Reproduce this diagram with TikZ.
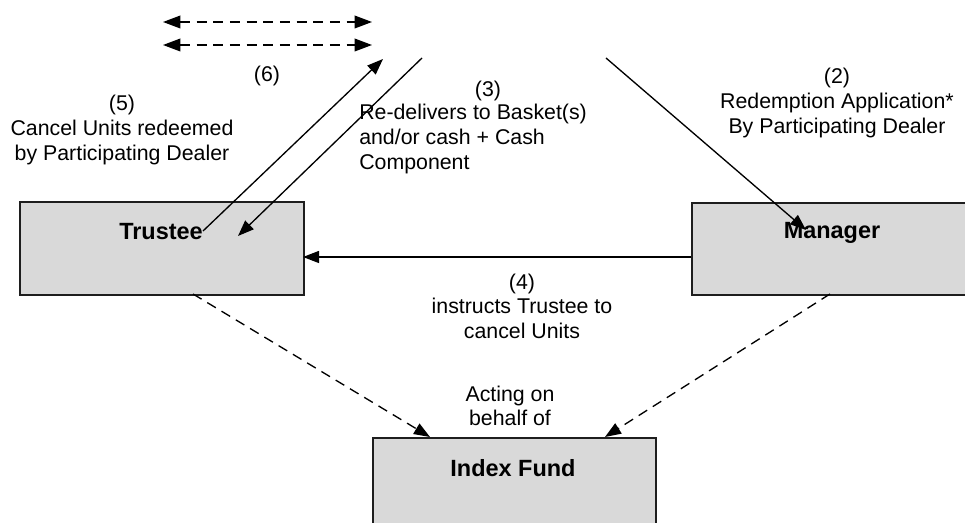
\documentclass[tikz,border=0pt]{standalone}
\usepackage{fontspec}
\setmainfont{Liberation Sans}
\usetikzlibrary{arrows.meta}
\definecolor{boxgray}{HTML}{D9D9D9}
\definecolor{boxline}{HTML}{1E1E1E}
\begin{document}
\begin{tikzpicture}[x=0.75pt,y=-0.75pt,
  box/.style={draw=boxline, line width=1.4pt, fill=boxgray, inner sep=0pt, anchor=north west},
  lbl/.style={font=\fontsize{16}{18.4}\selectfont, align=center, inner sep=0pt},
  blbl/.style={font=\fontsize{17.6}{20}\selectfont\bfseries, inner sep=0pt},
  flow/.style={line width=1pt, -{Triangle[length=12pt,width=9pt]}},
  rel/.style={line width=1pt, dash pattern=on 7.5pt off 5pt, -{Triangle[length=12pt,width=9pt]}},
  both/.style={line width=1.1pt, dash pattern=on 7.5pt off 5pt, {Triangle[length=13pt,width=9.5pt]}-{Triangle[length=13pt,width=9.5pt]}}
]
\useasboundingbox (0,0) rectangle (965,523);
\clip (0,0) rectangle (965,523);
% boxes
\node[box, minimum width=213pt, minimum height=69.75pt] (trustee) at (19,201) {};
\node[box, minimum width=225pt, minimum height=69pt] (manager) at (691,202) {};
\node[box, minimum width=212.25pt, minimum height=90pt] (fund) at (372,437) {};
% box labels
\node[blbl] (trusteeT) at (161,232) {Trustee};
\node[blbl] (managerT) at (832,233) {Manager};
\node[blbl] (fundT) at (513,468) {Index Fund};
% text labels
\node[lbl] (l6) at (267,76) {(6)};
\node[lbl] (l5) at (122,130) {(5)\\Cancel Units redeemed\\by Participating Dealer};
\node[lbl] (l3n) at (488,91) {(3)};
\node[lbl, align=left, anchor=west] (l3) at (359,139) {Re-delivers to Basket(s)\\and/or cash + Cash\\Component};
\node[lbl] (l2) at (837,103) {(2)\\Redemption Application*\\By Participating Dealer};
\node[lbl] (l4) at (522,306) {(4)\\instructs Trustee to\\cancel Units};
\node[lbl] (lact) at (510,406) {Acting on\\behalf of};
% connector end points
\coordinate (d1l) at (163,22);
\coordinate (d1r) at (372,22);
\coordinate (d2l) at (163,45);
\coordinate (d2r) at (372,45);
\coordinate (s5) at (203,231);
\coordinate (e5) at (383,59);
\coordinate (s3) at (422,58);
\coordinate (e3) at (238,236);
\coordinate (s2) at (606,58);
\coordinate (e2) at (806,230);
\coordinate (s4) at (691,257);
\coordinate (e4) at (303,257);
\coordinate (st) at (193,294);
\coordinate (et) at (430,437);
\coordinate (sm) at (830,294);
\coordinate (em) at (605,437);
% connectors
\draw[both] (d1l) -- (d1r);
\draw[both] (d2l) -- (d2r);
\draw[flow] (s5) -- (e5);
\draw[flow] (s3) -- (e3);
\draw[flow] (s2) -- (e2);
\draw[flow] (s4) -- (e4);
\draw[rel] (st) -- (et);
\draw[rel] (sm) -- (em);
\end{tikzpicture}
\end{document}
